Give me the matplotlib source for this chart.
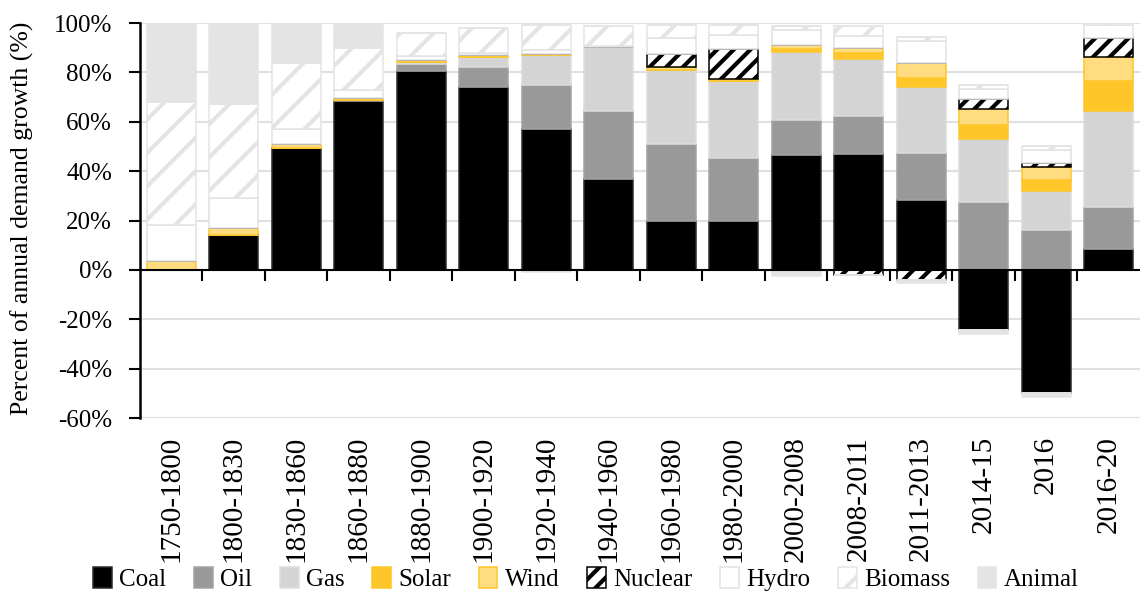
import matplotlib
matplotlib.use("Agg")
import matplotlib.pyplot as plt
import numpy as np

plt.rcParams['font.family'] = ['Liberation Serif', 'DejaVu Serif']
plt.rcParams['hatch.linewidth'] = 3.0

# values (percent of annual demand growth)
categories = ['1750-1800', '1800-1830', '1830-1860', '1860-1880', '1880-1900',
              '1900-1920', '1920-1940', '1940-1960', '1960-1980', '1980-2000',
              '2000-2008', '2008-2011', '2011-2013', '2014-15', '2016', '2016-20']

coal    = [0, 14, 49.5, 68.5, 80.5, 74, 57, 37, 20, 20, 46.5, 47, 28.3, -24.5, -50, 8.4]
oil     = [0, 0, 0, 0.3, 2.8, 8.3, 17.8, 27.5, 31, 25.5, 14.3, 15.3, 19, 27.3, 16, 17]
gas     = [0, 0, 0, 0, 1, 4, 12.2, 25.8, 30, 31, 27.3, 23, 26.8, 25.6, 16.1, 39.1]
solar   = [0, 0, 0, 0, 0, 0, 0, 0, 0, 0, 1.4, 2.7, 3.6, 5.8, 4.4, 12.2]
wind    = [3.5, 3, 1.5, 1, 0.8, 0.8, 0.5, 0, 1, 1, 1.7, 2, 6.1, 6.6, 5.2, 9.7]
nuclear = [0, 0, 0, 0, 0, 0, 0, 0, 5.4, 11.8, 0, -2, -4, 3.9, 1.6, 7.4]
hydro   = [14.5, 12, 6, 3, 1.5, 0.8, 1.5, 0.5, 6.7, 5.8, 6.1, 4.7, 9, 4.1, 5.1, 5.2]
biomass = [50, 38, 27, 17, 9.5, 10, 10, 8, 5, 4, 1.6, 4.1, 1.7, 1.5, 1.6, 1]
animal  = [32, 33, 16, 10, 0, 0, -1, 0, 0, 0, -2.3, 0, -1.2, -1.5, -1.6, 0]

series = [
    ('Coal', coal, '#000000', '#2b2b2b', None),
    ('Oil', oil, '#999999', '#a3a3a3', None),
    ('Gas', gas, '#d4d4d4', '#dcdcdc', None),
    ('Solar', solar, '#ffc629', '#ffc629', None),
    ('Wind', wind, '#ffdc80', '#ffc629', None),
    ('Nuclear', nuclear, '#ffffff', '#000000', '//'),
    ('Hydro', hydro, '#ffffff', '#e2e2e2', None),
    ('Biomass', biomass, '#ffffff', '#e4e4e4', '/'),
    ('Animal', animal, '#e4e4e4', '#e4e4e4', None),
]

fig = plt.figure(figsize=(11.4, 5.93), dpi=100)
ax = fig.add_axes([0.1228, 0.2951, 0.8772, 0.6661])

x = np.arange(len(categories))
pos_base = np.zeros(len(categories))
neg_base = np.zeros(len(categories))
handles = []
for name, vals, face, edge, hatch in series:
    v = np.array(vals, dtype=float)
    p = np.where(v > 0, v, 0)
    n = np.where(v < 0, v, 0)
    b = ax.bar(x, p, 0.78, bottom=pos_base, color=face, edgecolor=edge,
               hatch=hatch, linewidth=1.1, zorder=2, label=name)
    ax.bar(x, n, 0.78, bottom=neg_base, color=face, edgecolor=edge,
           hatch=hatch, linewidth=1.1, zorder=2)
    pos_base += p
    neg_base += n
    handles.append(b)

ax.set_xlim(-0.5, len(categories) - 0.5)
ax.set_ylim(-60, 100)
ax.set_yticks(np.arange(-60, 101, 20))
ax.set_yticklabels([f'{t}%' for t in range(-60, 101, 20)], fontsize=18)
ax.yaxis.grid(True, color='#e0e0e0', linewidth=1.5)
ax.set_axisbelow(True)

for s in ['top', 'right']:
    ax.spines[s].set_visible(False)
ax.spines['left'].set_linewidth(1.8)
ax.spines['bottom'].set_position(('data', 0))
ax.spines['bottom'].set_linewidth(1.5)
ax.spines['bottom'].set_zorder(3)
ax.tick_params(axis='y', length=8, width=1.5, pad=12)

# tick marks on the zero line between categories
ax.set_xticks(np.arange(0.5, len(categories) - 0.5, 1))
ax.tick_params(axis='x', length=8, width=1.5, labelbottom=False)

# category labels at the bottom of the plot
sec = ax.secondary_xaxis(0.0)
sec.set_xticks(x)
sec.set_xticklabels(categories, rotation=90, fontsize=21)
sec.tick_params(length=0, pad=13)
sec.spines['bottom'].set_visible(False)

ax.set_ylabel('Percent of annual demand growth (%)', fontsize=18.5)
ax.yaxis.set_label_coords(-0.106, 0.505)

fig.legend(handles=handles, loc='lower center', bbox_to_anchor=(0.514, -0.035),
           ncol=9, frameon=False, fontsize=18, handlelength=0.75,
           handleheight=0.9, handletextpad=0.3, columnspacing=1.1)

fig.savefig('out.png', dpi=100)
